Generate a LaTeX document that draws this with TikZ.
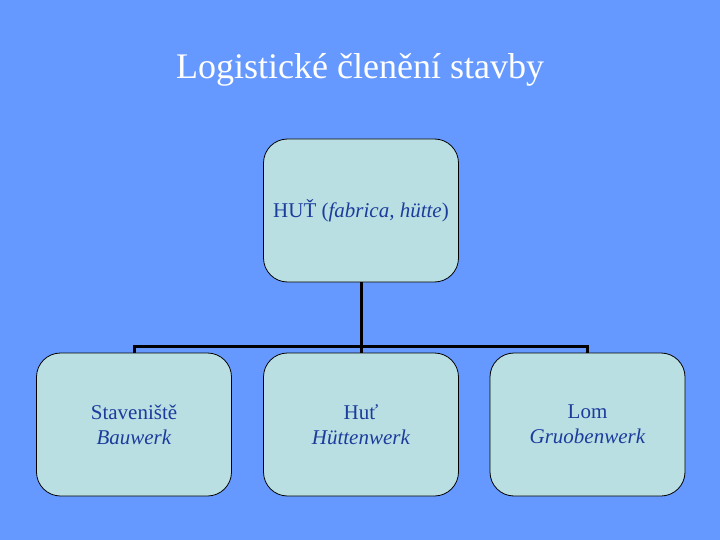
\documentclass[tikz,border=0pt]{standalone}
\usepackage{fontspec}
\setmainfont{Liberation Serif}
\definecolor{bg}{HTML}{6699FF}
\definecolor{boxfill}{HTML}{B9DFE3}
\definecolor{txt}{HTML}{1C3C9C}
\begin{document}
\begin{tikzpicture}[x=1pt,y=-1pt,
  box/.style={draw=black,line width=0.8pt,fill=boxfill,rounded corners=24pt,minimum width=195pt,minimum height=143pt,inner sep=0pt,align=center,text=txt,font=\fontsize{21}{25}\selectfont},
  conn/.style={draw=black,line width=3pt}]
\fill[bg] (0,0) rectangle (720,540);
\useasboundingbox (0,0) rectangle (720,540);
\node[text=white,font=\fontsize{36}{40}\selectfont] (title) at (360,70) {Logistické členění stavby};
\node[box] (top) at (361,210.5) {HUŤ (\textit{fabrica, hütte})};
\node[box] (l) at (134,424.5) {Staveniště\\ \textit{Bauwerk}};
\node[box] (m) at (361,424.5) {Huť\\ \textit{Hüttenwerk}};
\node[box] (r) at (587.5,424.5) {Lom\\ \textit{Gruobenwerk}};
\coordinate (j) at (361,346);
\draw[conn] (top.south) -- (m.north);
\draw[conn] (l.north) |- (j) -| (r.north);
\end{tikzpicture}
\end{document}
